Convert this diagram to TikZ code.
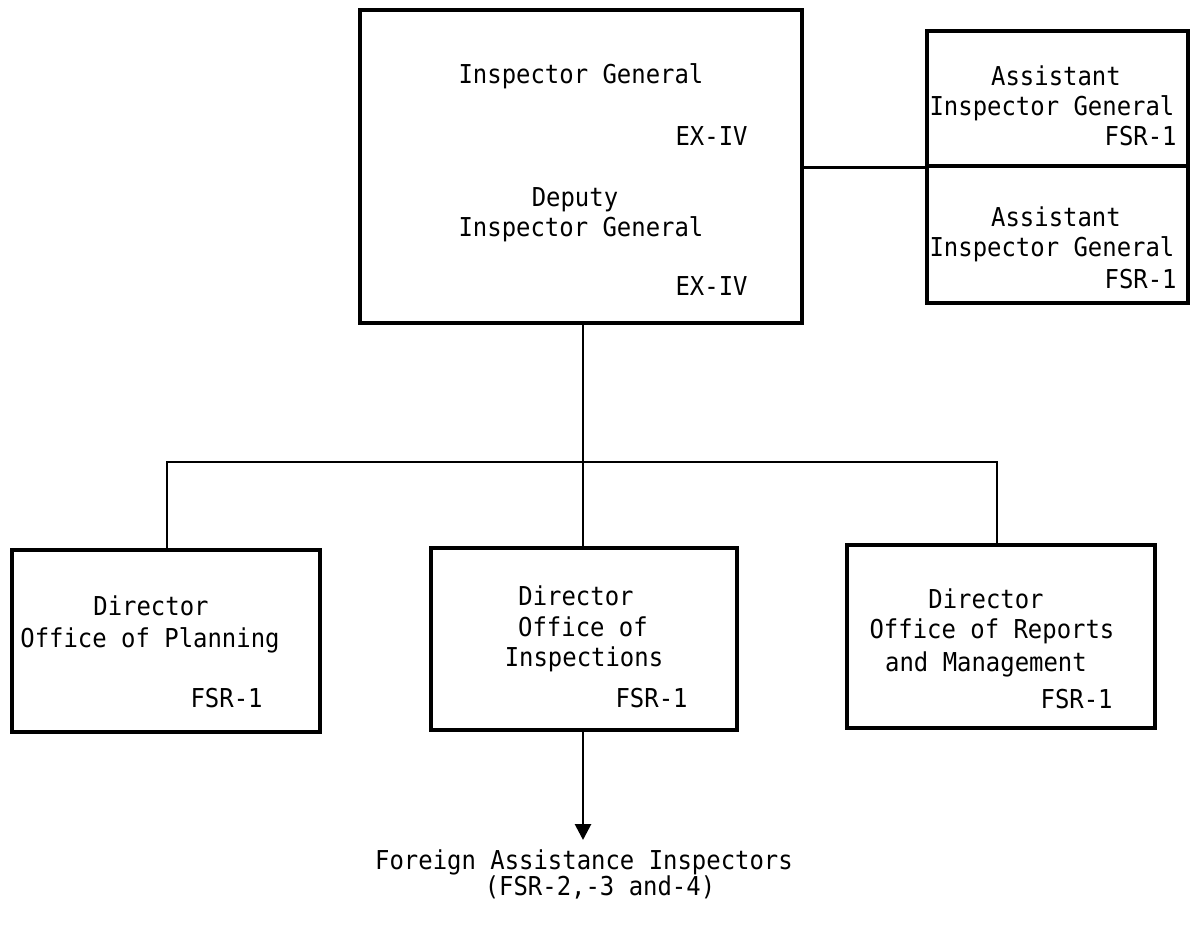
\documentclass[tikz,border=0pt]{standalone}
\usepackage{fontspec}
\newfontfamily\tw[FakeStretch=0.92]{DejaVu Sans Mono}
\usetikzlibrary{arrows.meta}
\tikzset{
  box/.style={draw, line width=1.6pt, inner sep=0pt},
  conn/.style={line width=1.4pt},
  t/.style={anchor=base, inner sep=0pt, font=\tw\fontsize{13}{15}\selectfont},
  tr/.style={anchor=base east, inner sep=0pt, font=\tw\fontsize{13}{15}\selectfont},
}
\begin{document}
\begin{tikzpicture}[x=0.5pt, y=-0.5pt]
\useasboundingbox (0,0) rectangle (1196,925);
% boxes
\node[box, minimum width=221pt, minimum height=156.5pt] (ig) at (581,166.5) {};
\node[box, minimum width=130.5pt, minimum height=67.5pt] (aig1) at (1057.5,98.5) {};
\node[box, minimum width=130.5pt, minimum height=68.5pt] (aig2) at (1057.5,234.5) {};
\node[box, minimum width=154pt, minimum height=91pt] (plan) at (166,641) {};
\node[box, minimum width=153pt, minimum height=91pt] (insp) at (584,639) {};
\node[box, minimum width=154pt, minimum height=91.5pt] (rep) at (1001,636.5) {};
% texts
\node[t] (ig1) at (581,84) {Inspector General};
\node[tr] (ig2) at (748,146) {EX-IV};
\node[t] (ig3) at (575,207) {Deputy};
\node[t] (ig4) at (581,237) {Inspector General};
\node[tr] (ig5) at (748,296) {EX-IV};
\node[t] (a1) at (1056,86) {Assistant};
\node[t] (a2) at (1052,116) {Inspector General};
\node[tr] (a3) at (1177,146) {FSR-1};
\node[t] (b1) at (1056,227) {Assistant};
\node[t] (b2) at (1052,257) {Inspector General};
\node[tr] (b3) at (1177,289) {FSR-1};
\node[t] (p1) at (151,616) {Director};
\node[t] (p2) at (150,647) {Office of Planning};
\node[tr] (p3) at (263,707) {FSR-1};
\node[t] (i1) at (576,606) {Director};
\node[t] (i2) at (583,637) {Office of};
\node[t] (i3) at (584,667) {Inspections};
\node[tr] (i4) at (688,707) {FSR-1};
\node[t] (r1) at (986,609) {Director};
\node[t] (r2) at (992,639) {Office of Reports};
\node[t] (r3) at (986,671) {and Management};
\node[tr] (r4) at (1113,709) {FSR-1};
\node[t] (f1) at (584,869) {Foreign Assistance Inspectors};
\node[t] (f2) at (600,895) {(FSR-2,-3 and-4)};
% connectors
\coordinate (busL) at (167,462);
\coordinate (busC) at (583,462);
\coordinate (busR) at (997,462);
\coordinate (tip) at (583,840);
\draw[conn] (aig1.south west) -- (aig1.south west -| ig.east);
\draw[conn] (busC |- ig.south) -- (busC |- insp.north);
\draw[conn] (busL |- plan.north) -- (busL) -- (busR) -- (busR |- rep.north);
\draw[conn, -{Triangle[width=8pt, length=8pt]}] (busC |- insp.south) -- (tip);
\end{tikzpicture}
\end{document}
